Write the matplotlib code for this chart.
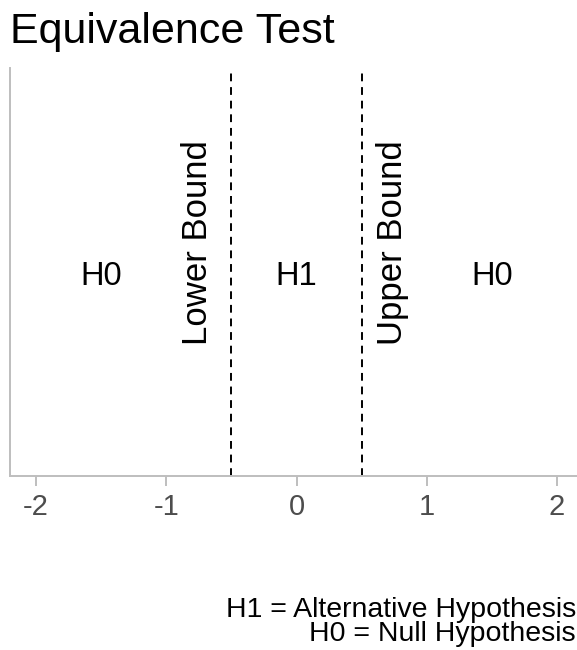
import matplotlib
matplotlib.use("Agg")
import matplotlib.pyplot as plt

plt.rcParams['font.family'] = ['Liberation Sans', 'DejaVu Sans']

# data
bounds = [-0.5, 0.5]
region_labels = ['H0', 'H1', 'H0']
region_x = [-1.5, 0.0, 1.5]
bound_labels = ['Lower Bound', 'Upper Bound']
bound_label_x = [-0.76, 0.74]
xticks = [-2, -1, 0, 1, 2]
caption = "H1 = Alternative Hypothesis\nH0 = Null Hypothesis"

fig = plt.figure(figsize=(5.77, 6.5), dpi=100)
W, H = 577, 650
ax = fig.add_axes([10 / W, 1 - 476 / H, (583 - 10) / W, (476 - 68) / H])

ax.set_xlim(-2.2, 2.2)
ax.set_ylim(0, 1)

for b in bounds:
    ax.axvline(b, color='black', lw=1.4, ls=(0, (4, 3)))

for x, lab in zip(region_x, region_labels):
    ax.text(x, 0.49, lab, ha='center', va='center', fontsize=23.5)

for x, lab in zip(bound_label_x, bound_labels):
    ax.text(x, 0.572, lab, ha='center', va='center', rotation=90, fontsize=25)

ax.set_xticks(xticks)
ax.set_xticklabels([str(t) for t in xticks])
ax.set_yticks([])
ax.tick_params(axis='x', colors='#BEBEBE', labelcolor='#4D4D4D',
               length=7, width=1.4, labelsize=21, pad=5)
for s in ['top', 'right']:
    ax.spines[s].set_visible(False)
for s in ['left', 'bottom']:
    ax.spines[s].set_color('#BEBEBE')
    ax.spines[s].set_linewidth(1.4)

fig.text(10 / W, 1 - 43 / H, 'Equivalence Test', fontsize=31,
         ha='left', va='baseline')
fig.text(0.998, 1 - 641 / H, caption, fontsize=20.5, ha='right',
         va='baseline', multialignment='right', linespacing=0.9)

fig.savefig('out.png', dpi=100)
